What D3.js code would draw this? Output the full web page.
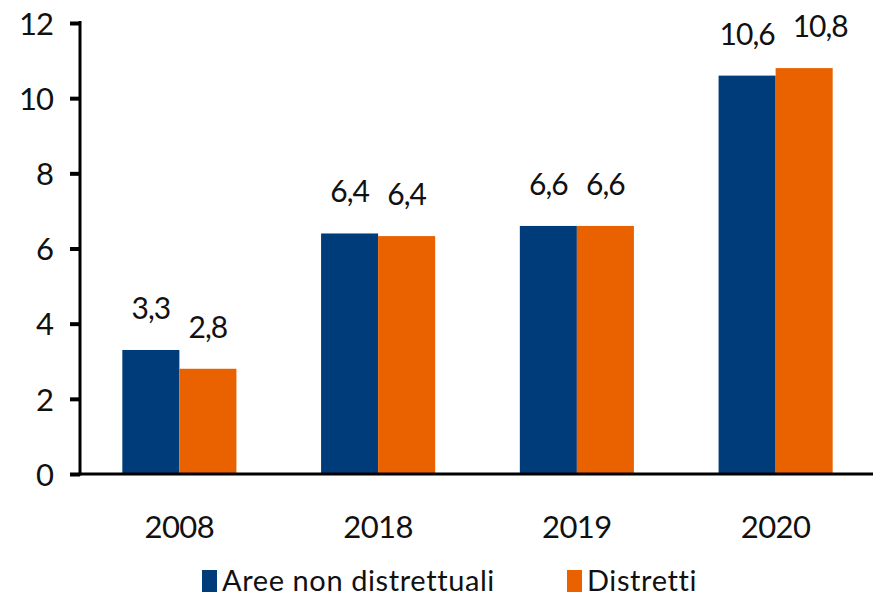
<!DOCTYPE html>
<html>
<head>
<meta charset="utf-8">
<script src="https://cdn.jsdelivr.net/npm/d3@7"></script>
<style>
  body { margin: 0; background: #fff; }
  svg text { font-family: Lato, "DejaVu Sans", sans-serif; fill: #111; }
</style>
</head>
<body>
<svg id="chart" width="877" height="597"></svg>
<script>
// data
var years = ['2008', '2018', '2019', '2020'];
var seriesNames = ['Aree non distrettuali', 'Distretti'];
var nonDistretti = [3.3, 6.4, 6.6, 10.6];
var distretti = [2.8, 6.33, 6.6, 10.8];
var nonDistrettiLabels = ['3,3', '6,4', '6,6', '10,6'];
var distrettiLabels = ['2,8', '6,4', '6,6', '10,8'];
var yTicks = [0, 2, 4, 6, 8, 10, 12];

var colors = ['#003b7a', '#ea6200'];

var svg = d3.select('#chart');

var x0 = d3.scaleBand()
  .domain(years)
  .range([80, 875])
  .paddingInner(0.426)
  .paddingOuter(0.213);

var x1 = d3.scaleBand()
  .domain(seriesNames)
  .range([0, x0.bandwidth()]);

var y = d3.scaleLinear()
  .domain([0, 12])
  .range([474, 23]);

var rows = years.map(function (year, i) {
  return {
    year: year,
    bars: [
      { name: seriesNames[0], value: nonDistretti[i], label: nonDistrettiLabels[i], color: colors[0] },
      { name: seriesNames[1], value: distretti[i], label: distrettiLabels[i], color: colors[1] }
    ]
  };
});

/**
 * Bars
 */
var groups = svg.append('g')
  .selectAll('g.year')
  .data(rows)
  .enter()
  .append('g')
  .attr('class', 'year')
  .attr('transform', function (d) { return 'translate(' + x0(d.year) + ',0)'; });

groups.selectAll('rect')
  .data(function (d) { return d.bars; })
  .enter()
  .append('rect')
  .attr('x', function (d) { return x1(d.name); })
  .attr('width', x1.bandwidth())
  .attr('y', function (d) { return y(d.value); })
  .attr('height', function (d) { return y(0) - y(d.value); })
  .attr('fill', function (d) { return d.color; });

groups.selectAll('text.value')
  .data(function (d) { return d.bars; })
  .enter()
  .append('text')
  .attr('class', 'value')
  .attr('x', function (d) { return x1(d.name) + x1.bandwidth() / 2; })
  .attr('y', function (d) { return y(d.value) - 31; })
  // long labels on the second bar get pushed right so they don't collide
  .attr('dx', function (d) {
    return (d.name === seriesNames[1] && d.label.length > 3) ? 16 : 0;
  })
  .attr('text-anchor', 'middle')
  .style('font-size', '30px')
  .style('letter-spacing', '-1px')
  .text(function (d) { return d.label; });

/**
 * Axes
 */
var yAxis = svg.append('g')
  .attr('transform', 'translate(80,0)')
  .call(d3.axisLeft(y).tickValues(yTicks).tickSize(10).tickPadding(17)
    .tickFormat(function (d) { return String(d); }));

yAxis.select('.domain').remove();
yAxis.selectAll('.tick line')
  .attr('stroke', '#000')
  .attr('stroke-width', 4);
yAxis.selectAll('.tick text')
  .style('font-size', '31px')
  .style('letter-spacing', '-1px')
  .attr('dy', '0.36em');

svg.append('line')
  .attr('x1', 80).attr('x2', 80)
  .attr('y1', y(12) - 2).attr('y2', y(0) + 1.5)
  .attr('stroke', '#000')
  .attr('stroke-width', 3);

svg.append('line')
  .attr('x1', 78.5).attr('x2', 873)
  .attr('y1', y(0)).attr('y2', y(0))
  .attr('stroke', '#000')
  .attr('stroke-width', 3);

svg.append('g')
  .selectAll('text.year')
  .data(years)
  .enter()
  .append('text')
  .attr('class', 'year')
  .attr('x', function (d) { return x0(d) + x0.bandwidth() / 2; })
  .attr('y', 538)
  .attr('text-anchor', 'middle')
  .style('font-size', '31px')
  .style('letter-spacing', '-0.5px')
  .text(function (d) { return d; });

/**
 * Legend
 */
var legendX = [202, 567];
var legend = svg.append('g')
  .selectAll('g.legend')
  .data(seriesNames)
  .enter()
  .append('g')
  .attr('class', 'legend')
  .attr('transform', function (d, i) { return 'translate(' + legendX[i] + ',570)'; });

legend.append('rect')
  .attr('width', 15)
  .attr('height', 22)
  .attr('fill', function (d, i) { return colors[i]; });

legend.append('text')
  .attr('x', 20)
  .attr('y', 21)
  .style('font-size', '29px')
  .style('letter-spacing', '0.6px')
  .text(function (d) { return d; });
</script>
</body>
</html>
